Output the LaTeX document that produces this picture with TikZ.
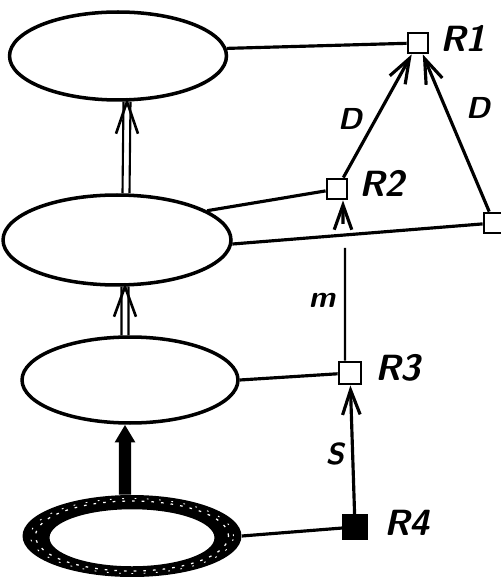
\documentclass[tikz,border=0pt]{standalone}
\usetikzlibrary{arrows.meta,shapes.geometric}

\begin{document}
\begin{tikzpicture}[x=0.02cm,y=-0.02cm,font=\sffamily\itshape]
\tikzset{
  elipse/.style={ellipse,draw=black,line width=2pt,inner sep=0pt},
  cuadro/.style={rectangle,draw=black,line width=1.6pt,fill=white,
    minimum size=0.4cm,inner sep=0pt},
  etq/.style={font=\huge\sffamily\bfseries\itshape,inner sep=0pt},
  etqp/.style={font=\LARGE\sffamily\bfseries\itshape,inner sep=0pt},
  lin/.style={line width=1.8pt},
  fl/.style={-{Straight Barb[length=14pt,width=10pt]},line width=1.8pt},
  par/.style={line width=1.2pt},
  punta/.style={line width=1.5pt,line join=miter}
}
\useasboundingbox (0,0) rectangle (500,580);
% niveles
\node[elipse,minimum width=4.34cm,minimum height=1.76cm] (e1) at (118,56) {};
\node[elipse,minimum width=4.56cm,minimum height=1.8cm] (e2) at (117,240) {};
\node[elipse,minimum width=4.32cm,minimum height=1.72cm] (e3) at (130,380) {};
\node[ellipse,minimum width=4.38cm,minimum height=1.64cm,inner sep=0pt] (e4) at (132,536) {};
\fill[even odd rule] (e4.center) ellipse [x radius=2.19cm,y radius=0.82cm]
  ([yshift=-1pt]e4.center) ellipse [x radius=1.65cm,y radius=0.57cm];
\draw[white,line width=0.7pt,dash pattern=on 1.5pt off 4pt]
  (e4.center) ellipse [x radius=1.93cm,y radius=0.7cm];
\draw[white,line width=0.5pt,dash pattern=on 1pt off 6pt]
  (e4.center) ellipse [x radius=2.03cm,y radius=0.75cm];
% flechas dobles
\draw[par] ([xshift=0.11cm]e2.north) -- ([xshift=0.11cm]e1.south);
\draw[par] ([xshift=0.25cm]e2.north) -- ([xshift=0.25cm]e1.south);
\draw[punta] ([xshift=-0.04cm,yshift=-0.64cm]e1.south) -- ([xshift=0.18cm]e1.south)
  -- ([xshift=0.40cm,yshift=-0.64cm]e1.south);
\draw[par] ([xshift=-0.17cm]e3.north) -- ([xshift=0.09cm]e2.south);
\draw[par] ([xshift=-0.03cm]e3.north) -- ([xshift=0.23cm]e2.south);
\draw[punta] ([xshift=-0.06cm,yshift=-0.6cm]e2.south) -- ([xshift=0.16cm]e2.south)
  -- ([xshift=0.38cm,yshift=-0.6cm]e2.south);
\draw[line width=7pt,-{Triangle[length=10pt,width=11pt]}]
  ([xshift=-0.14cm]e4.north) -- ([xshift=-0.1cm]e3.south);
% receptores
\coordinate (mcut) at (345,248);
\coordinate (mtop) at (343,224);
\node[cuadro] (r1) at (418,43) {};
\node[cuadro] (r2) at (337,189) {};
\node[cuadro] (r5) at (494,223) {};
\node[cuadro,minimum size=0.44cm] (r3) at (350,373) {};
\node[cuadro,fill=black,minimum size=0.46cm] (r4) at (355,527) {};
\draw[lin] (e1.4) -- (r1);
\draw[lin] (e2.18) -- (r2);
\draw[lin] (e2.-2) -- (r5);
\draw[lin] (e3.east) -- (r3);
\draw[lin] (e4.east) -- (r4);
\draw[fl] (r2) -- (r1);
\draw[fl] (r5) -- (r1);
\draw[line width=1.3pt] ([xshift=-0.1cm]r3.north) -- (mcut);
\draw[fl] (mtop) -- ([xshift=0.12cm]r2.south);
\draw[fl] (r4) -- (r3);
\node[etq] (l1) at (463,38) {R1};
\node[etq] (l2) at (382,183) {R2};
\node[etq] (l3) at (398,368) {R3};
\node[etq] (l4) at (407,523) {R4};
\node[etqp] (d1) at (350,119) {D};
\node[etqp] (d2) at (478,108) {D};
\node[etqp] (lm) at (322,300) {m};
\node[etqp] (ls) at (335,454) {S};
\end{tikzpicture}
\end{document}
